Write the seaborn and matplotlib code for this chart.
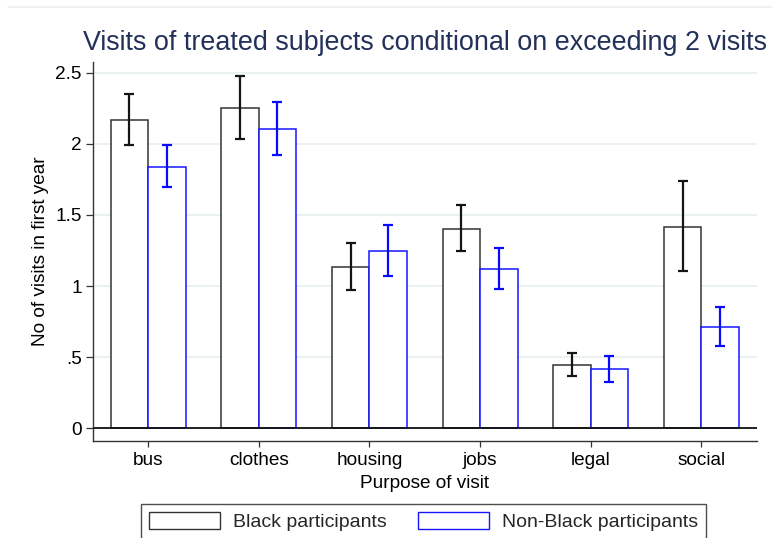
import matplotlib
matplotlib.use("Agg")
import matplotlib.pyplot as plt
from matplotlib.patches import Patch
from matplotlib.lines import Line2D
import numpy as np
import pandas as pd
import seaborn as sns

# Mean visits per purpose with 95% confidence bounds
categories = ["bus", "clothes", "housing", "jobs", "legal", "social"]
groups = ["Black participants", "Non-Black participants"]

black_mean = [2.164, 2.249, 1.136, 1.404, 0.444, 1.418]
black_lo = [1.993, 2.037, 0.974, 1.246, 0.366, 1.103]
black_hi = [2.347, 2.475, 1.303, 1.570, 0.530, 1.739]

nonblack_mean = [1.838, 2.105, 1.244, 1.120, 0.415, 0.713]
nonblack_lo = [1.699, 1.922, 1.073, 0.979, 0.328, 0.582]
nonblack_hi = [1.988, 2.293, 1.427, 1.270, 0.511, 0.856]

y_ticks = [0, 0.5, 1, 1.5, 2, 2.5]
y_tick_labels = ["0", ".5", "1", "1.5", "2", "2.5"]

df = pd.DataFrame({
    "purpose": categories * 2,
    "group": [groups[0]] * len(categories) + [groups[1]] * len(categories),
    "visits": black_mean + nonblack_mean,
    "lo": black_lo + nonblack_lo,
    "hi": black_hi + nonblack_hi,
})

sns.set_style("white")
plt.rcParams["font.family"] = ["Liberation Sans", "DejaVu Sans"]

W, H = 772, 538
fig = plt.figure(figsize=(W / 100, H / 100), dpi=100)
ax = fig.add_axes([92.7 / W, 1 - 440.7 / H, (756.7 - 92.7) / W, (440.7 - 61.7) / H])

edge_colors = {groups[0]: "#333333", groups[1]: "#1515ff"}
err_colors = {groups[0]: "#151515", groups[1]: "#0a0aff"}

sns.barplot(data=df, x="purpose", y="visits", hue="group", order=categories,
            hue_order=groups, palette=["white", "white"], width=0.678,
            errorbar=None, linewidth=1.1, legend=False, ax=ax, zorder=2)

for cont, g in zip(ax.containers, groups):
    sub = df[df["group"] == g].set_index("purpose").loc[categories]
    xs = []
    for patch in cont.patches:
        patch.set_edgecolor(edge_colors[g])
        patch.set_facecolor("white")
        xs.append(patch.get_x() + patch.get_width() / 2)
    means = sub["visits"].to_numpy()
    yerr = np.vstack([means - sub["lo"].to_numpy(), sub["hi"].to_numpy() - means])
    ax.errorbar(xs, means, yerr=yerr, fmt="none", ecolor=err_colors[g],
                elinewidth=1.6, capsize=3.4, capthick=1.6, zorder=4)

ax.axhline(0, color="#111111", lw=1.3, zorder=3)

ax.set_xlim(-0.5, 5.5)
ax.set_ylim(-0.087, 2.577)
ax.set_yticks(y_ticks)
ax.set_yticklabels(y_tick_labels)
ax.yaxis.grid(True, color="#e4edf0", lw=1.1)
ax.set_axisbelow(True)

for side in ["top", "right"]:
    ax.spines[side].set_visible(False)
for side in ["left", "bottom"]:
    ax.spines[side].set_color("#333333")
    ax.spines[side].set_linewidth(1.0)

ax.tick_params(axis="y", length=5.4, width=0.9, color="#333333", pad=2.4,
               labelsize=13.7, labelcolor="black", left=True)
ax.tick_params(axis="x", length=4.3, width=0.9, color="#333333", pad=4.0,
               labelsize=13.7, labelcolor="black", bottom=True)

ax.set_xlabel("Purpose of visit", fontsize=13.7, color="black")
ax.xaxis.label.set_va("baseline")
ax.xaxis.set_label_coords(0.5, (440.7 - 488.3) / 379)
ax.set_ylabel("No of visits in first year", fontsize=13.7, color="black")
ax.yaxis.set_label_coords(-44.0 / 664, 0.5)

ax.set_title("Visits of treated subjects conditional on exceeding 2 visits",
             fontsize=19.4, color="#22305a", pad=8.4)

handles = [Patch(facecolor="white", edgecolor=edge_colors[g], linewidth=1.0) for g in groups]
leg = fig.legend(handles, groups, loc="upper center", ncol=2,
                 bbox_to_anchor=(423.5 / W, 1 - 504 / H), borderaxespad=0,
                 fontsize=14.0, frameon=True, fancybox=False, borderpad=0.4,
                 handlelength=3.65, handleheight=0.95, handletextpad=0.65,
                 columnspacing=1.65)
leg.get_frame().set_edgecolor("#222222")
leg.get_frame().set_linewidth(1.0)

fig.add_artist(Line2D([8 / W, 1], [1 - 6.7 / H, 1 - 6.7 / H], color="#eceff1", lw=1.2))

fig.savefig("out.png", dpi=100)
